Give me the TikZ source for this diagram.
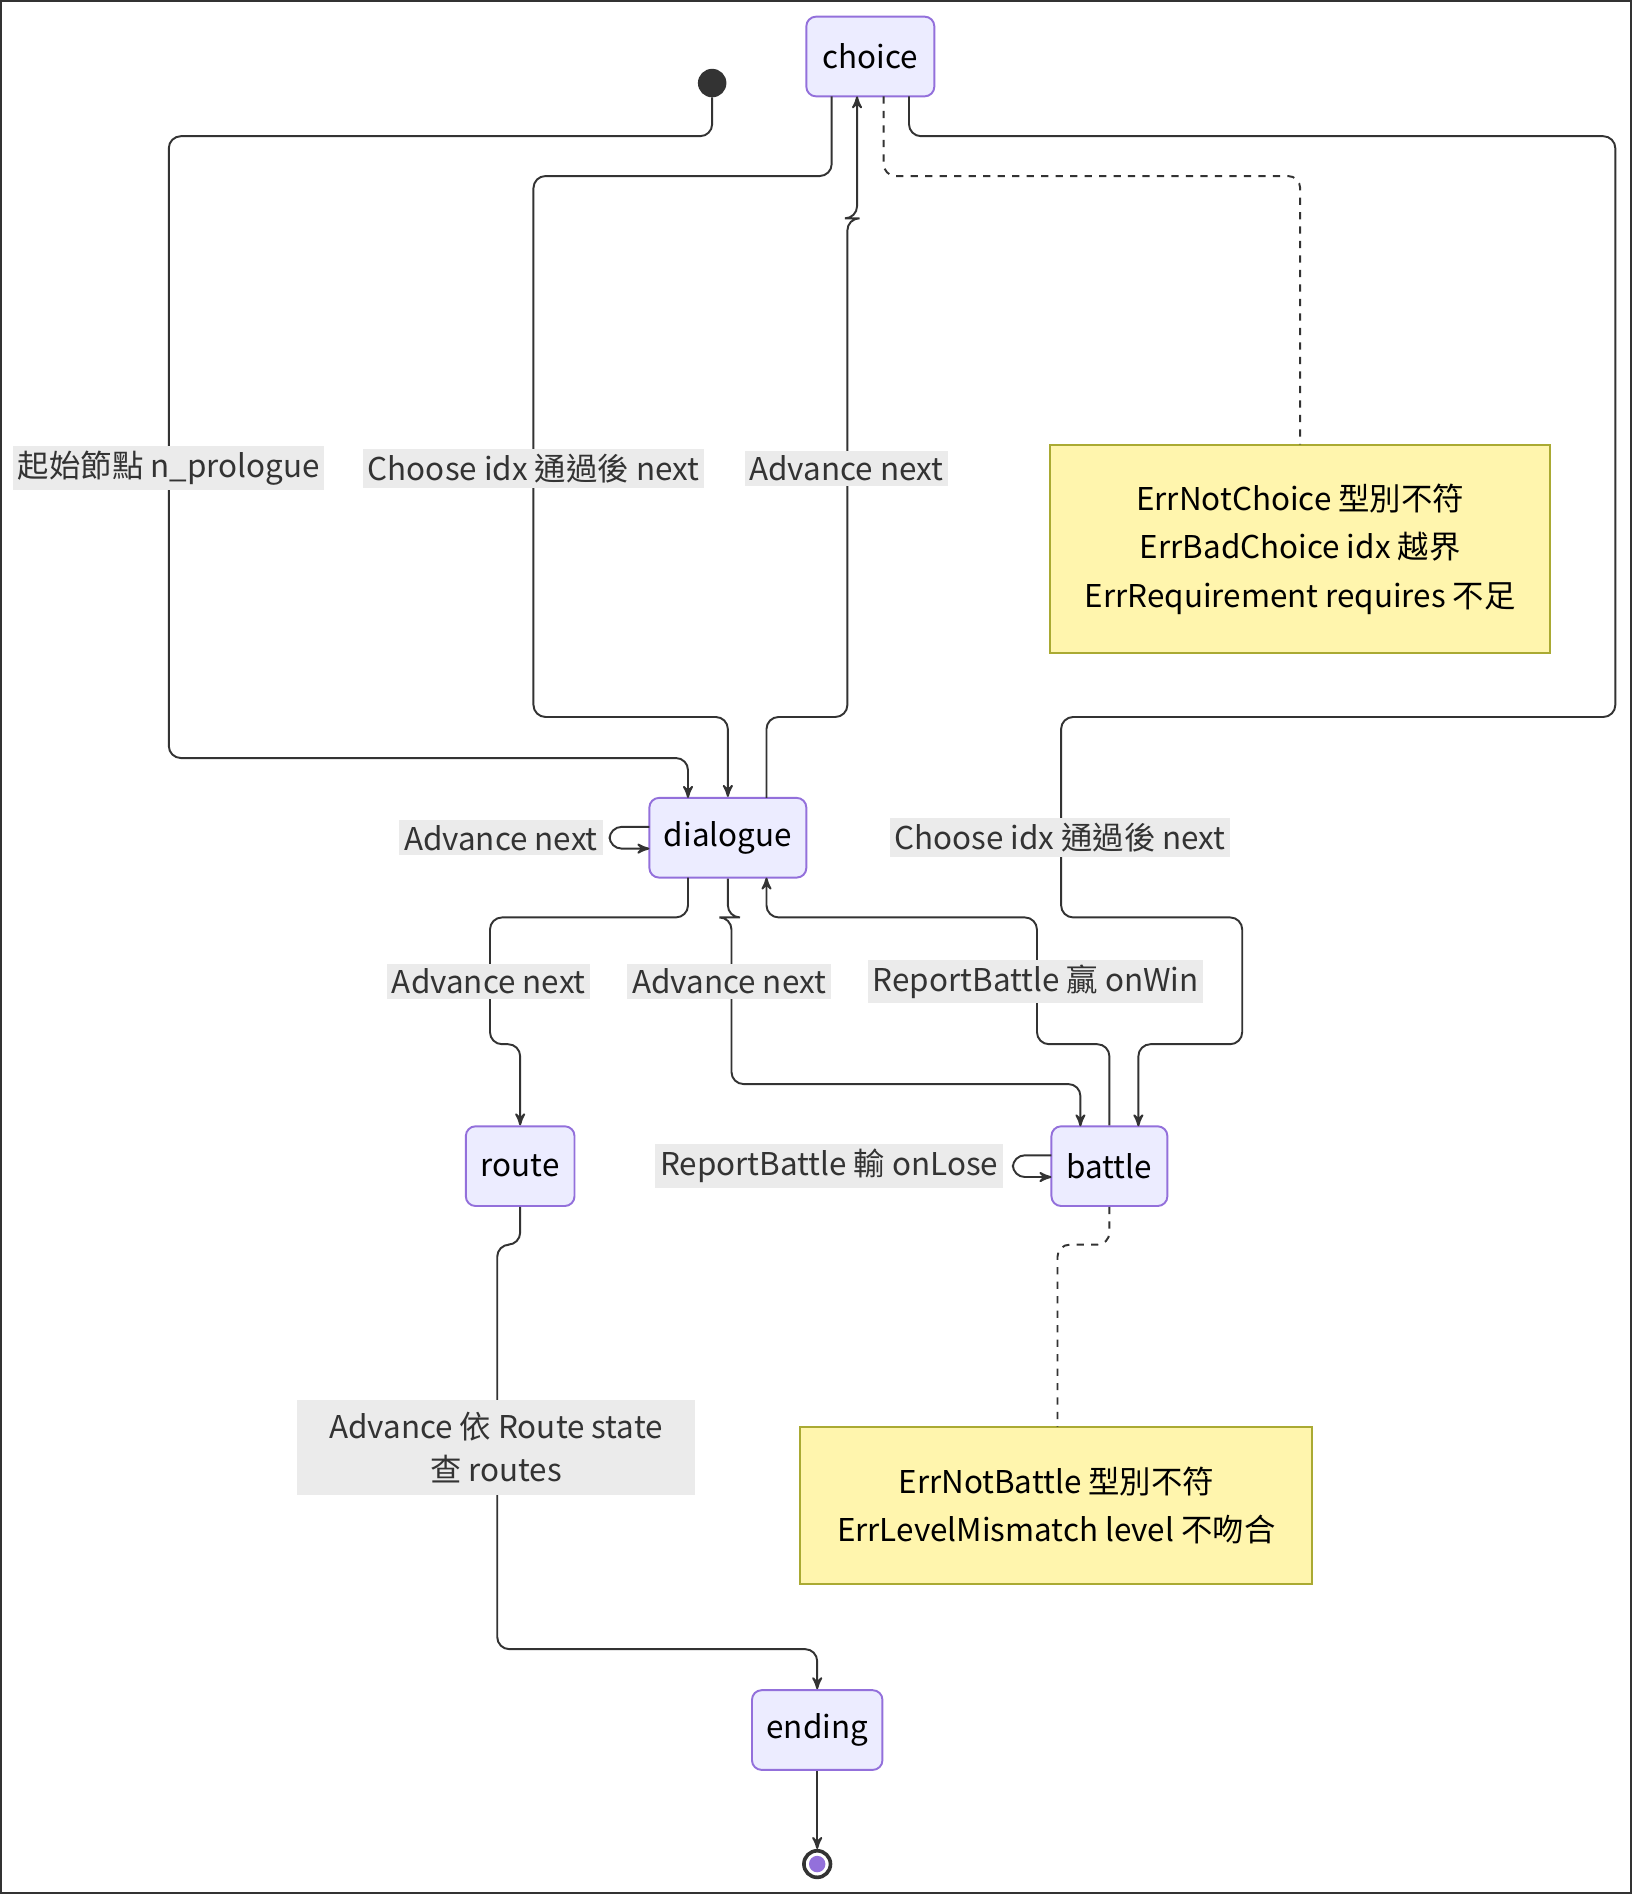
\documentclass[tikz,border=0pt]{standalone}
\usepackage{fontspec}
\setmainfont{Noto Sans CJK TC}
\usetikzlibrary{arrows}
\definecolor{statefill}{HTML}{ECECFF}
\definecolor{statedraw}{HTML}{9370DB}
\definecolor{notefill}{HTML}{FFF5AD}
\definecolor{notedraw}{HTML}{AAAA33}
\definecolor{lblfill}{HTML}{EBEBEB}
\definecolor{ink}{HTML}{333333}
\begin{document}
\begin{tikzpicture}[x=0.5pt,y=-0.5pt,>=stealth',thick,
                    every path/.style={draw=ink},
                    font=\fontsize{13}{18}\selectfont]
  \tikzset{st/.style={rectangle,rounded corners=4pt,fill=statefill,draw=statedraw,
             minimum height=33pt,inner xsep=6pt,text=black},
           lbl/.style={fill=lblfill,text=ink,inner sep=2pt,align=center},
           note/.style={rectangle,fill=notefill,draw=notedraw,text=black,align=center},
           edge/.style={->,rounded corners=5pt},
           link/.style={dashed,rounded corners=5pt}}
  \useasboundingbox (0,0) rectangle (1350,1567);

  \node[circle,fill=ink,draw=ink,minimum size=11pt,inner sep=0pt] (start) at (589,68) {};
  \node[st,minimum width=53pt] (choice)   at (720,46)   {choice};
  \node[st,minimum width=65pt] (dialogue) at (602,693)  {dialogue};
  \node[st,minimum width=45pt] (route)    at (430,965)  {route};
  \node[st,minimum width=48pt] (battle)   at (918,965)  {battle};
  \node[st,minimum width=54pt] (ending)   at (676,1432) {ending};
  \node[circle,draw=ink,line width=1.5pt,minimum size=11pt,inner sep=0pt] (stop) at (676,1543) {};
  \fill[statedraw] (stop) circle (3pt);

  \node[note,minimum width=207pt,minimum height=86pt] (errchoice) at (1076,454)
    {ErrNotChoice 型別不符\\[2pt]ErrBadChoice idx 越界\\[2pt]ErrRequirement requires 不足};
  \node[note,minimum width=212pt,minimum height=65pt] (errbattle) at (874,1246)
    {ErrNotBattle 型別不符\\[2pt]ErrLevelMismatch level 不吻合};

  % transitions
  \draw[edge] (start) -- (589,112) -- (139,112) -- (139,627) -- (569,627) -- (569,660);
  \draw[edge] (688,79) -- (688,145) -- (441,145) -- (441,593) -- (602,593) -- (dialogue.north);
  \draw[edge] (634,660) -- (634,593) -- (701,593) -- (701,180) -- (709,180) -- (709,79);
  \draw[edge] (752,79) -- (752,112) -- (1337,112) -- (1337,593) -- (878,593) -- (878,759)
              -- (1028,759) -- (1028,864) -- (942,864) -- (942,932);
  \draw[edge] (537,684) -- (504,684) -- (504,702) -- (537,702);
  \draw[edge] (569,726) -- (569,759) -- (405,759) -- (405,864) -- (430,864) -- (route.north);
  \draw[edge] (dialogue.south) -- (602,759) -- (605,759) -- (605,897) -- (894,897) -- (894,932);
  \draw[edge] (battle.north) -- (918,864) -- (858,864) -- (858,759) -- (634,759) -- (634,726);
  \draw[edge] (870,956) -- (838,956) -- (838,974) -- (870,974);
  \draw[edge] (route.south) -- (430,1030) -- (411,1030) -- (411,1365) -- (676,1365) -- (ending.north);
  \draw[edge] (ending) -- (stop);

  % notes
  \draw[link] (731,79) -- (731,145) -- (1076,145) -- (errchoice.north);
  \draw[link] (battle.south) -- (918,1030) -- (875,1030) -- (875,1181);

  % labels
  \node[lbl] (l1) at (139,387)  {起始節點 n\_prologue};
  \node[lbl] (l2) at (441,387)  {Choose idx 通過後 next};
  \node[lbl] (l3) at (700,387)  {Advance next};
  \node[lbl] (l4) at (877,693)  {Choose idx 通過後 next};
  \node[lbl] (l5) at (414,693)  {Advance next};
  \node[lbl] (l6) at (404,812)  {Advance next};
  \node[lbl] (l7) at (603,812)  {Advance next};
  \node[lbl] (l8) at (857,812)  {ReportBattle 贏 onWin};
  \node[lbl] (l9) at (686,965)  {ReportBattle 輸 onLose};
  \node[lbl,minimum width=165pt,minimum height=39pt] (l10) at (410,1198)
    {Advance 依 Route state\\查 routes};
\end{tikzpicture}
\end{document}
